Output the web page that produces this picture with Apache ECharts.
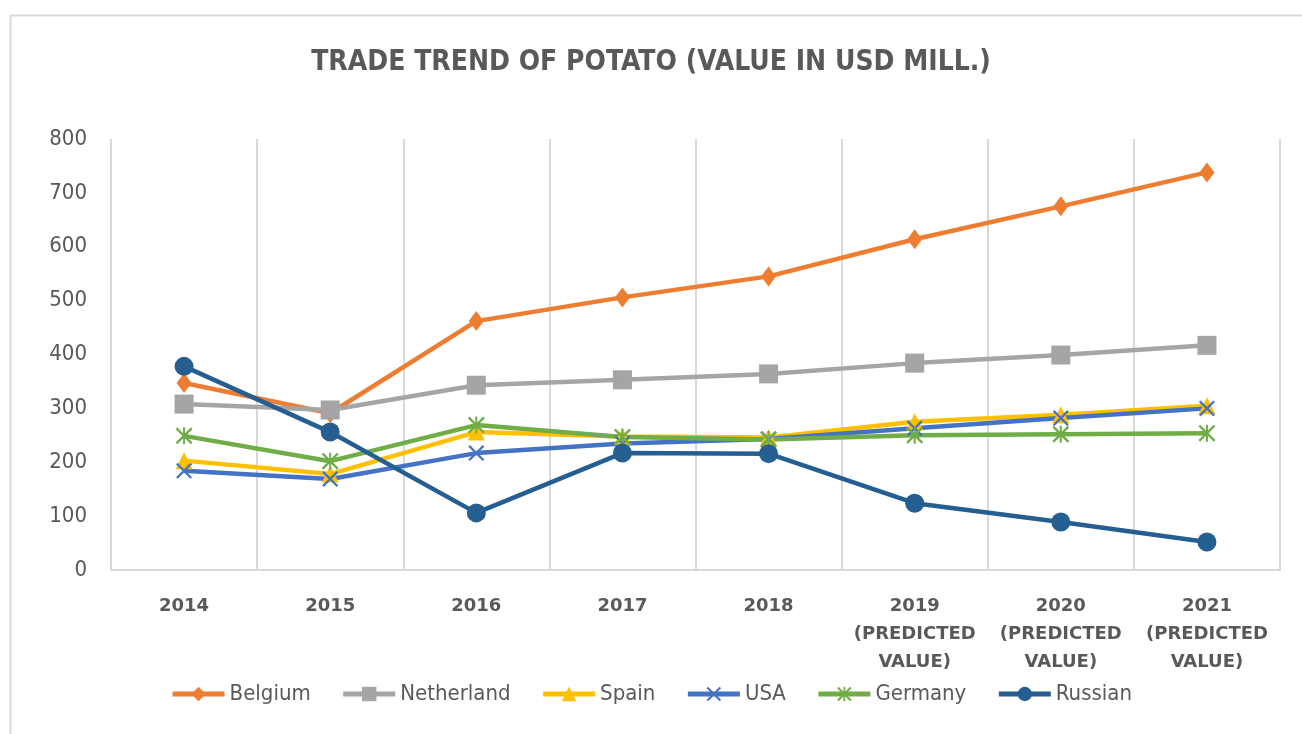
<!DOCTYPE html>
<html>
<head>
<meta charset="utf-8">
<title>Trade trend of potato</title>
<script src="https://cdn.jsdelivr.net/npm/echarts@6/dist/echarts.min.js"></script>
<style>
  html, body { margin: 0; padding: 0; background: #fff; }
  #chart { width: 1302px; height: 734px; }
</style>
</head>
<body>
<div id="chart"></div>
<script>
const years = [
  '2014', '2015', '2016', '2017', '2018',
  '2019\n(PREDICTED\nVALUE)', '2020\n(PREDICTED\nVALUE)', '2021\n(PREDICTED\nVALUE)'
]

const belgium = [347, 291, 462, 506, 545, 614, 675, 738]
const netherland = [308, 297, 343, 353, 364, 384, 399, 417]
const spain = [203, 178, 256, 248, 246, 275, 288, 305]
const usa = [184, 169, 217, 235, 243, 263, 282, 300]
const germany = [249, 202, 269, 247, 242, 250, 252, 254]
const russian = [378, 256, 106, 217, 216, 124, 89, 52]

const yTicks = [0, 100, 200, 300, 400, 500, 600, 700, 800]

const narrow = '"Liberation Sans Narrow", "DejaVu Sans Condensed", sans-serif'
const textColor = '#595959'
const gridColor = '#D9D9D9'

// X and asterisk markers as filled paths
const crossPath = 'path://M0,1 L1,0 L5,4 L9,0 L10,1 L6,5 L10,9 L9,10 L5,6 L1,10 L0,9 L4,5 Z'
const starPath = crossPath + ' M4.4,0 L5.6,0 L5.6,10 L4.4,10 Z'

function mkSeries(name, data, color, symbol, size) {
  return {
    name: name,
    type: 'line',
    data: data,
    symbol: symbol,
    symbolSize: size,
    showAllSymbol: true,
    lineStyle: { color: color, width: 4.5 },
    itemStyle: { color: color, borderWidth: 0 },
    emphasis: { disabled: true }
  }
}

const chart = echarts.init(document.getElementById('chart'), null, { renderer: 'canvas' })

chart.setOption({
  animation: false,
  backgroundColor: '#fff',
  title: {
    text: 'TRADE TREND OF POTATO (VALUE IN USD MILL.)',
    left: 'center',
    top: 44,
    textStyle: {
      fontFamily: '"DejaVu Sans Condensed", sans-serif',
      fontWeight: 'bold',
      fontSize: 28,
      color: textColor
    }
  },
  graphic: [{
    type: 'rect',
    shape: { x: 10.5, y: 15.5, width: 1400, height: 800 },
    style: { fill: null, stroke: gridColor, lineWidth: 2 },
    silent: true
  }],
  legend: {
    bottom: 24,
    left: 'center',
    itemWidth: 52,
    itemHeight: 18,
    itemGap: 30,
    lineStyle: { width: 5 },
    textStyle: { fontFamily: narrow, fontSize: 22, color: textColor },
    data: ['Belgium', 'Netherland', 'Spain', 'USA', 'Germany', 'Russian']
  },
  grid: { left: 111, right: 22, top: 139, bottom: 164, containLabel: false },
  xAxis: {
    type: 'category',
    data: years,
    boundaryGap: true,
    axisLine: { show: true, lineStyle: { color: gridColor, width: 2 } },
    axisTick: { show: false },
    splitLine: { show: true, lineStyle: { color: gridColor, width: 2 } },
    axisLabel: {
      interval: 0,
      margin: 22,
      fontFamily: '"DejaVu Sans", sans-serif',
      fontWeight: 'bold',
      fontSize: 18,
      lineHeight: 28,
      color: textColor
    }
  },
  yAxis: {
    type: 'value',
    min: 0,
    max: 800,
    interval: 100,
    axisLine: { show: false },
    axisTick: { show: false },
    splitLine: { show: false },
    axisLabel: {
      margin: 24,
      fontFamily: narrow,
      fontSize: 22,
      color: textColor,
      formatter: v => yTicks.includes(v) ? String(v) : ''
    }
  },
  series: [
    mkSeries('Belgium', belgium, '#ED7D31', 'diamond', [15, 20]),
    mkSeries('Netherland', netherland, '#A5A5A5', 'rect', 19),
    mkSeries('Spain', spain, '#FFC000', 'triangle', 17),
    mkSeries('USA', usa, '#4472C4', crossPath, 16),
    mkSeries('Germany', germany, '#70AD47', starPath, 17),
    mkSeries('Russian', russian, '#255E91', 'circle', 19)
  ]
})
</script>
</body>
</html>
